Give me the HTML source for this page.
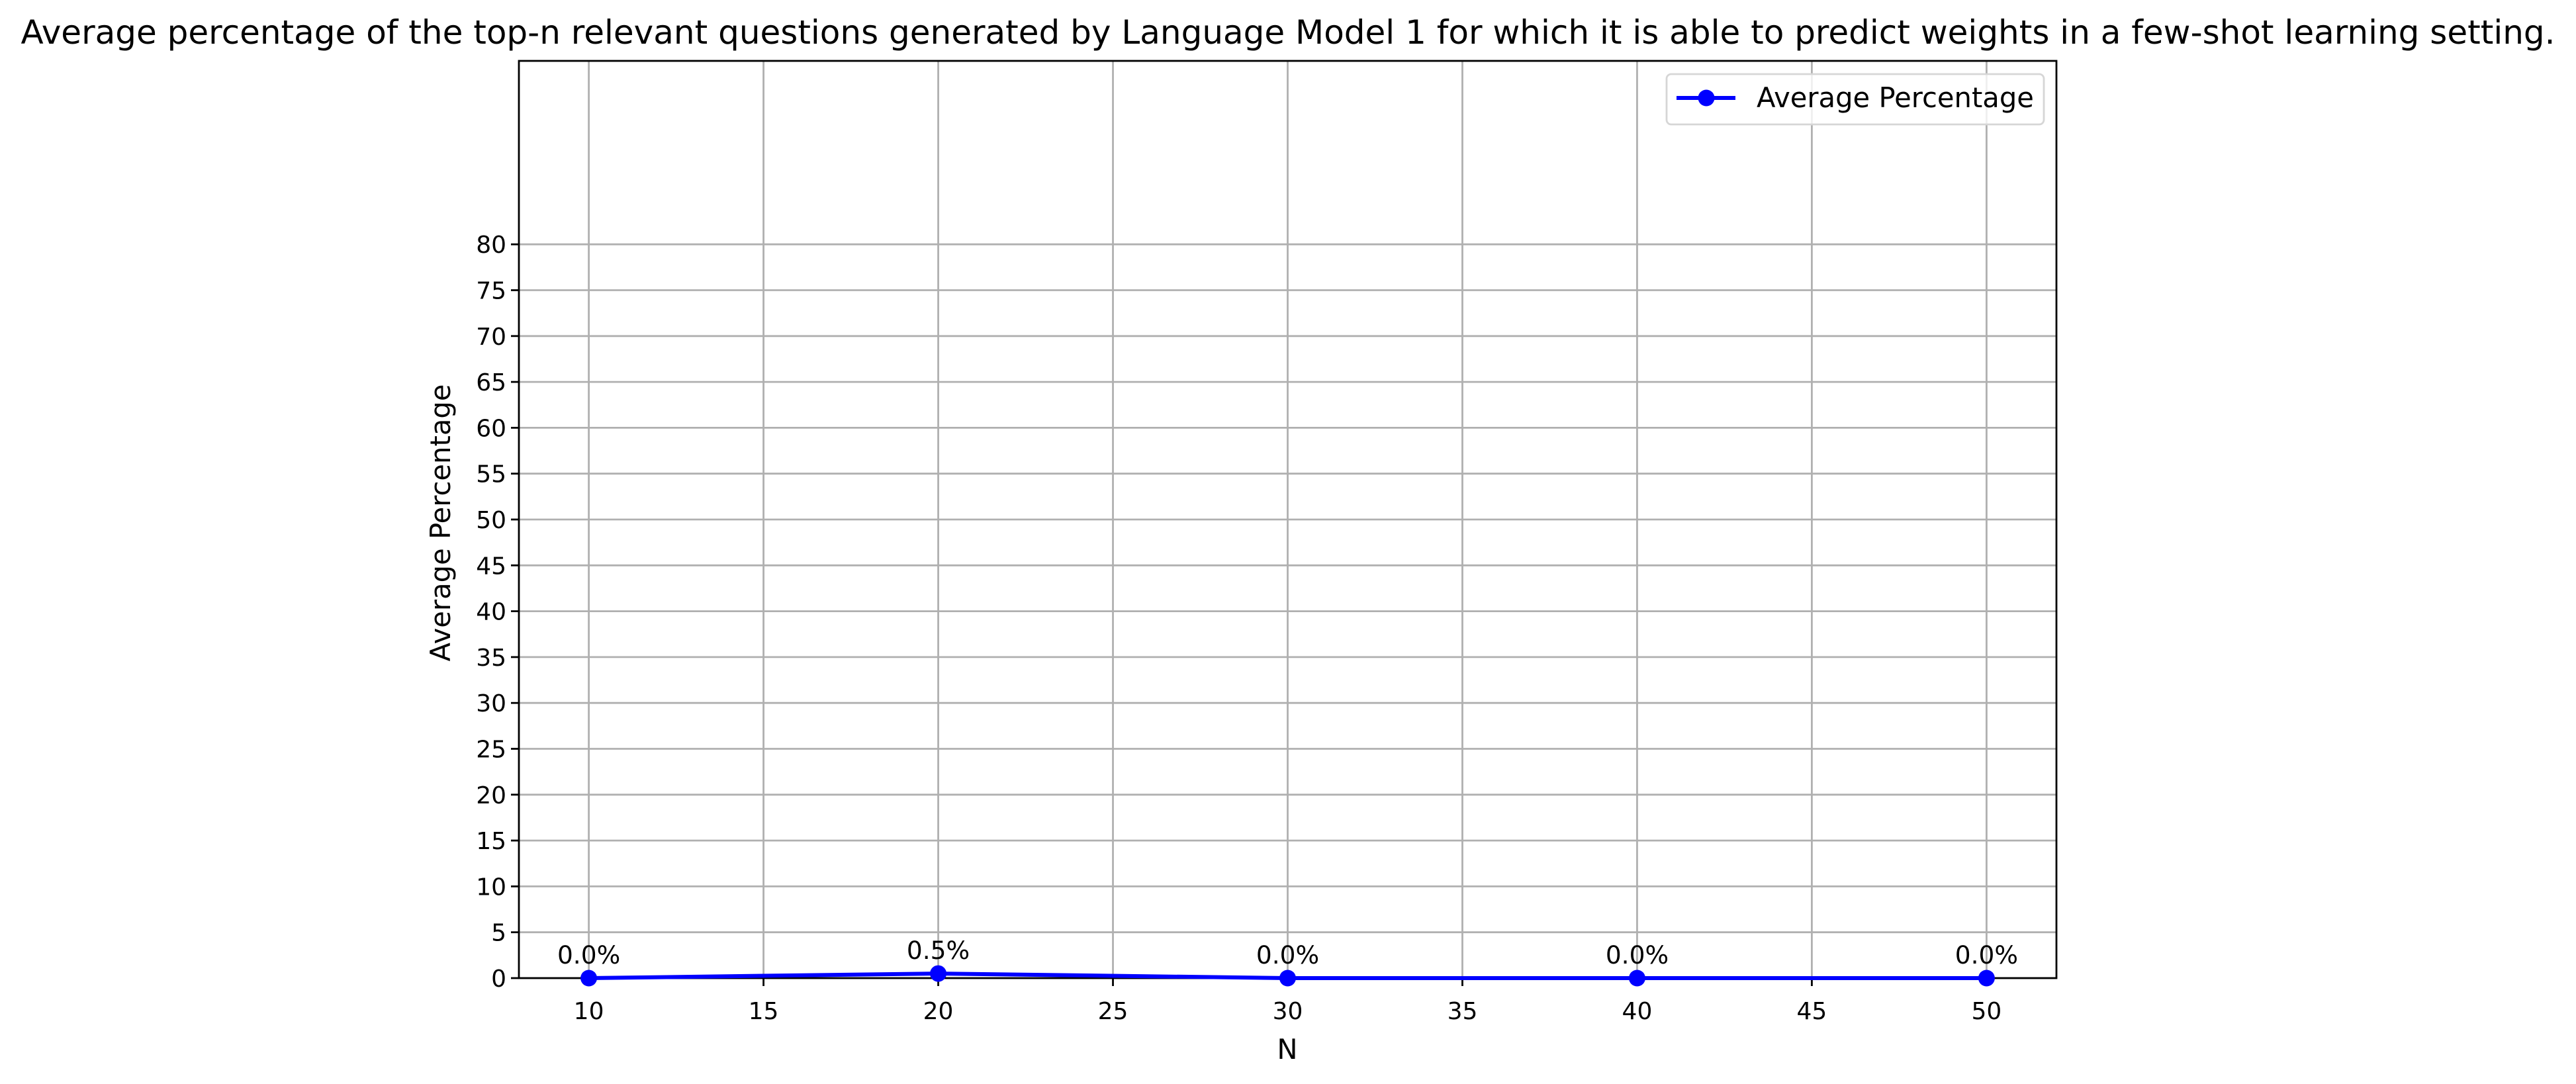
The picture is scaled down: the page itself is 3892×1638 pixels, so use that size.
<!DOCTYPE html>
<html><head><meta charset="utf-8"><style>
html,body{margin:0;padding:0;background:#fff}
svg{display:block}
text{font-family:"DejaVu Sans","Liberation Sans",sans-serif;fill:#000}
</style></head><body>
<svg id="chart" width="3892" height="1638" viewBox="0 0 3892 1638" xmlns="http://www.w3.org/2000/svg">
<rect x="0" y="0" width="3892" height="1638" fill="#fff"/>
<text x="1946" y="66" font-size="50" text-anchor="middle">Average percentage of the top-n relevant questions generated by Language Model 1 for which it is able to predict weights in a few-shot learning setting.</text>
<g id="grid"></g>
<g id="axes"></g>
<g id="series"></g>
<text x="1945" y="1600" font-size="41.7" text-anchor="middle">N</text>
<text x="0" y="0" font-size="41.7" text-anchor="middle" transform="translate(680,790) rotate(-90)">Average Percentage</text>
<g>
<rect x="2518" y="112" width="570" height="76" rx="7" fill="#fff" fill-opacity="0.8" stroke="#d6d6d6" stroke-width="2.8"/>
<line x1="2533" y1="148" x2="2622" y2="148" stroke="#0000ff" stroke-width="6"/>
<circle cx="2578" cy="148" r="12.5" fill="#0000ff"/>
<text x="2654" y="162" font-size="41.7">Average Percentage</text>
</g>
</svg>
<script>
const categories = [10, 20, 30, 40, 50];
const values = [0.0, 0.5, 0.0, 0.0, 0.0];
const valueLabels = ["0.0%", "0.5%", "0.0%", "0.0%", "0.0%"];
const xTicks = [10, 15, 20, 25, 30, 35, 40, 45, 50];
const yTicks = [0, 5, 10, 15, 20, 25, 30, 35, 40, 45, 50, 55, 60, 65, 70, 75, 80];

const L = 784, R = 3107, T = 92, B = 1478;
const xMin = 8, xMax = 52, yMin = 0, yMax = 100;
const NS = 'http://www.w3.org/2000/svg';
function xs(v){ return L + (v - xMin) / (xMax - xMin) * (R - L); }
function ys(v){ return B - (v - yMin) / (yMax - yMin) * (B - T); }
function mk(tag, attrs, parent){
  const el = document.createElementNS(NS, tag);
  for (const k in attrs) el.setAttribute(k, attrs[k]);
  parent.appendChild(el);
  return el;
}
const grid = document.getElementById('grid');
const axes = document.getElementById('axes');
const series = document.getElementById('series');

xTicks.forEach(t => {
  const x = xs(t);
  const g = mk('line', {x1:x, y1:T, x2:x, y2:B, stroke:'#b0b0b0', 'stroke-width':2.8}, grid);
  
  
  const tk = mk('line', {x1:x, y1:B, x2:x, y2:B+12, stroke:'#000', 'stroke-width':2.8}, axes);
  
  
  const lb = mk('text', {x:x, y:1540, 'font-size':36, 'text-anchor':'middle'}, axes);
  lb.textContent = t;
  
  
});
yTicks.forEach(t => {
  const y = ys(t);
  const g = mk('line', {x1:L, y1:y, x2:R, y2:y, stroke:'#b0b0b0', 'stroke-width':2.8}, grid);
  
  
  const tk = mk('line', {x1:L-12, y1:y, x2:L, y2:y, stroke:'#000', 'stroke-width':2.8}, axes);
  
  
  const lb = mk('text', {x:L-19, y:y+13, 'font-size':36, 'text-anchor':'end'}, axes);
  lb.textContent = t;
  
  
});
const frame = mk('rect', {x:L, y:T, width:R-L, height:B-T, fill:'none', stroke:'#000', 'stroke-width':2.8}, axes);



const pts = categories.map((c, i) => xs(c) + ',' + ys(values[i])).join(' ');
const line = mk('polyline', {points:pts, fill:'none', stroke:'#0000ff', 'stroke-width':6, 'stroke-linejoin':'round', 'stroke-linecap':'round'}, series);


categories.forEach((c, i) => {
  const cx = xs(c), cy = ys(values[i]);
  const p = mk('circle', {cx:cx, cy:cy, r:12.5, fill:'#0000ff'}, series);
  
  
  const lb = mk('text', {x:cx, y:cy-22, 'font-size':37.5, 'text-anchor':'middle'}, series);
  lb.textContent = valueLabels[i];
  
  
});
</script>
</body></html>
